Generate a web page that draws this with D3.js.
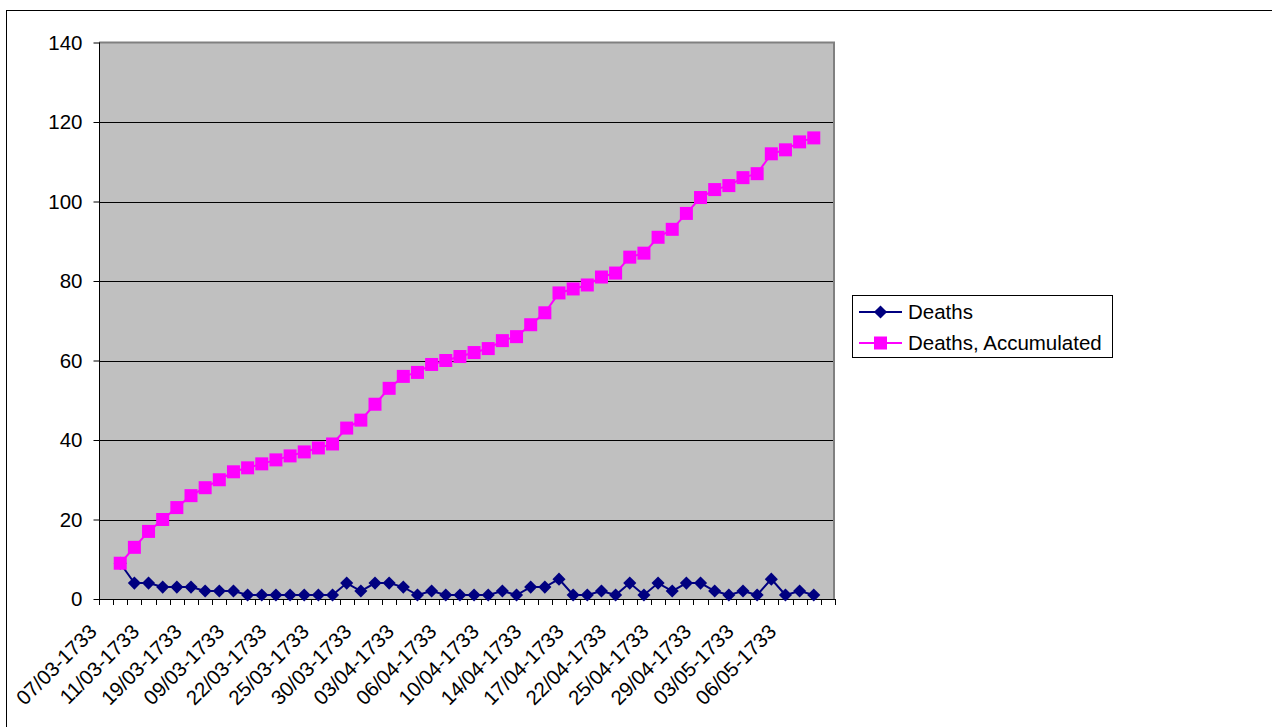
<!DOCTYPE html>
<html>
<head>
<meta charset="utf-8">
<script src="https://cdn.jsdelivr.net/npm/d3@7"></script>
<style>
  html, body { margin: 0; padding: 0; background: #fff; }
  svg { display: block; font-family: Arial, "Liberation Sans", sans-serif; }
</style>
</head>
<body>
<svg id="chart" width="1272" height="727"></svg>
<script>
// 52 category slots; only every third carries a label on the axis
const categoryCount = 52;
const tickLabels = ["07/03-1733", "11/03-1733", "19/03-1733", "09/03-1733", "22/03-1733",
  "25/03-1733", "30/03-1733", "03/04-1733", "06/04-1733", "10/04-1733", "14/04-1733",
  "17/04-1733", "22/04-1733", "25/04-1733", "29/04-1733", "03/05-1733", "06/05-1733"];
const tickStep = 3;
const firstDataIndex = 1;
const deaths = [9, 4, 4, 3, 3, 3, 2, 2, 2, 1, 1, 1, 1, 1, 1, 1, 4, 2, 4, 4, 3, 1, 2, 1, 1,
  1, 1, 2, 1, 3, 3, 5, 1, 1, 2, 1, 4, 1, 4, 2, 4, 4, 2, 1, 2, 1, 5, 1, 2, 1];
const deathsAccumulated = [9, 13, 17, 20, 23, 26, 28, 30, 32, 33, 34, 35, 36, 37, 38, 39, 43,
  45, 49, 53, 56, 57, 59, 60, 61, 62, 63, 65, 66, 69, 72, 77, 78, 79, 81, 82, 86, 87, 91, 93,
  97, 101, 103, 104, 106, 107, 112, 113, 115, 116];
const yTicks = [0, 20, 40, 60, 80, 100, 120, 140];
const seriesNames = ["Deaths", "Deaths, Accumulated"];

const svg = d3.select("#chart");
const plot = { left: 99, right: 835, top: 42.5, bottom: 599 };
const fontSize = 20.5;

// outer frame (extends beyond the window on the right/bottom)
svg.append("rect").attr("x", 6.5).attr("y", 10.5).attr("width", 1400).attr("height", 900)
  .attr("fill", "#fff").attr("stroke", "#000").attr("stroke-width", 1);

const x = d3.scaleBand().domain(d3.range(categoryCount)).range([plot.left, plot.right]).padding(0);
const cx = i => x(i) + x.bandwidth() / 2;
const y = d3.scaleLinear().domain([0, 140]).range([plot.bottom, plot.top]);

// plot background
svg.append("rect").attr("x", plot.left).attr("y", plot.top)
  .attr("width", plot.right - plot.left).attr("height", plot.bottom - plot.top)
  .attr("fill", "#c0c0c0");

// gridlines
svg.append("g").selectAll("line").data(yTicks.filter(v => v > 0 && v < 140)).join("line")
  .attr("x1", plot.left).attr("x2", plot.right)
  .attr("y1", d => Math.round(y(d)) + 0.5).attr("y2", d => Math.round(y(d)) + 0.5)
  .attr("stroke", "#000").attr("stroke-width", 1);

// plot border (top/right gray)
svg.append("path")
  .attr("d", `M${plot.left},${plot.top} H${plot.right - 1} V${plot.bottom}`)
  .attr("fill", "none").attr("stroke", "#808080").attr("stroke-width", 2);

// y axis
const yAxis = d3.axisLeft(y).tickValues(yTicks).tickSize(6).tickPadding(11);
const gy = svg.append("g").attr("transform", `translate(${plot.left + 0.5},0)`).call(yAxis);
gy.select(".domain").attr("stroke", "#000").attr("d", `M0,${plot.top}V${plot.bottom}`);
gy.selectAll(".tick line").attr("stroke", "#000");
gy.selectAll(".tick text").attr("font-size", fontSize).attr("fill", "#000")
  .attr("font-family", "Arial, 'Liberation Sans', sans-serif");

// x axis: ticks at category boundaries
const boundaries = d3.range(categoryCount + 1).map(i => plot.left + i * x.bandwidth());
const gx = svg.append("g");
gx.append("line").attr("x1", plot.left).attr("x2", plot.right)
  .attr("y1", plot.bottom + 0.5).attr("y2", plot.bottom + 0.5).attr("stroke", "#000");
gx.selectAll("line.tk").data(boundaries).join("line").attr("class", "tk")
  .attr("x1", d => Math.round(d) + 0.5).attr("x2", d => Math.round(d) + 0.5)
  .attr("y1", plot.bottom).attr("y2", plot.bottom + 6).attr("stroke", "#000");
gx.selectAll("text").data(tickLabels).join("text")
  .attr("transform", (d, k) => `translate(${cx(k * tickStep) - 8},${plot.bottom + 34}) rotate(-45)`)
  .attr("text-anchor", "end").attr("font-size", fontSize).attr("fill", "#000")
  .text(d => d);

// series
const navy = "#000080", magenta = "#ff00ff";
const line = d3.line().x((d, i) => cx(i + firstDataIndex)).y(d => y(d));
const sq = 13;
const diamond = d3.symbol().type(d3.symbolSquare).size(86);

svg.append("path").datum(deaths).attr("d", line)
  .attr("fill", "none").attr("stroke", navy).attr("stroke-width", 2);
svg.append("g").selectAll("path").data(deaths).join("path")
  .attr("d", diamond)
  .attr("transform", (d, i) => `translate(${cx(i + firstDataIndex)},${y(d)}) rotate(45)`)
  .attr("fill", navy);

svg.append("path").datum(deathsAccumulated).attr("d", line)
  .attr("fill", "none").attr("stroke", magenta).attr("stroke-width", 2);
svg.append("g").selectAll("rect").data(deathsAccumulated).join("rect")
  .attr("x", (d, i) => cx(i + firstDataIndex) - sq / 2).attr("y", d => y(d) - sq / 2)
  .attr("width", sq).attr("height", sq).attr("fill", magenta);

// legend
const lg = svg.append("g");
lg.append("rect").attr("x", 852.5).attr("y", 295.5).attr("width", 260).attr("height", 62)
  .attr("fill", "#fff").attr("stroke", "#000");
const rows = [{ name: seriesNames[0], color: navy, y: 312 }, { name: seriesNames[1], color: magenta, y: 343 }];
rows.forEach((r, k) => {
  lg.append("line").attr("x1", 859).attr("x2", 902).attr("y1", r.y).attr("y2", r.y)
    .attr("stroke", r.color).attr("stroke-width", 2);
  if (k === 0) {
    lg.append("path").attr("d", diamond).attr("transform", `translate(880.5,${r.y}) rotate(45)`).attr("fill", navy);
  } else {
    lg.append("rect").attr("x", 880.5 - sq / 2).attr("y", r.y - sq / 2).attr("width", sq).attr("height", sq).attr("fill", magenta);
  }
  lg.append("text").attr("x", 908).attr("y", r.y).attr("dy", "0.36em")
    .attr("font-size", fontSize).attr("fill", "#000").text(r.name);
});
</script>
</body>
</html>
